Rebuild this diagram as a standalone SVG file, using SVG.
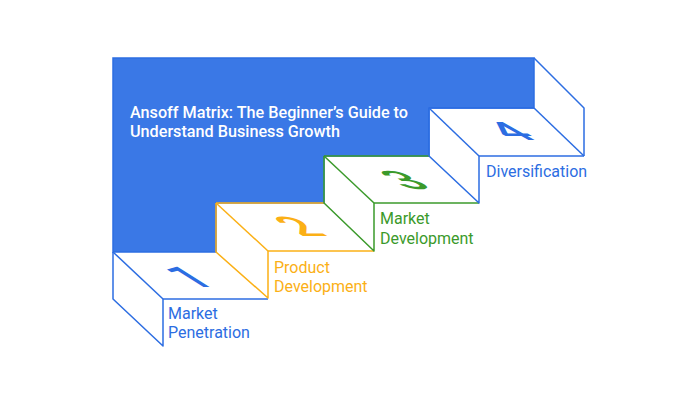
<svg xmlns="http://www.w3.org/2000/svg" width="698" height="400" viewBox="0 0 698 400">
<style>
.ln{fill:none;stroke-width:1.5;stroke-linejoin:round}
.b{stroke:#2c6de2}
.g{stroke:#3b9a2b}
.o{stroke:#fbb016}
.lbl{font-family:Roboto,"Liberation Sans",sans-serif;font-size:16px}
.tb{fill:#2c6de2}.tg{fill:#3b9a2b}.to{fill:#fbb016}
.dig{font-family:Roboto,"Liberation Sans",sans-serif;font-size:30px;font-weight:500;text-anchor:middle}
</style>
<rect width="698" height="400" fill="#ffffff"/>
<g id="wall">
<polygon points="113,58 534,58 534,108 429,108 429,156 324,156 324,203 216,203 216,252 113,252" fill="#3a78e6" stroke="#2c6de2" stroke-width="1.5"/>
<polyline class="ln b" points="534,58 584,108 584,156"/>
<line class="ln b" x1="534" y1="108" x2="584" y2="156"/>
<text x="130" y="117.5" fill="#ffffff" font-family="Roboto,'Liberation Sans',sans-serif" font-size="16.2" font-weight="500">Ansoff Matrix: The Beginner’s Guide to</text>
<text x="130" y="137" fill="#ffffff" font-family="Roboto,'Liberation Sans',sans-serif" font-size="16.2" font-weight="500">Understand Business Growth</text>
</g>
<g id="step1">
<polyline class="ln b" points="163,299 268,299"/>
<line class="ln b" x1="113" y1="252" x2="163" y2="299"/>
<polyline class="ln b" points="113,252 113,299 163,346 163,299"/>
<text class="dig tb" transform="translate(189,277) matrix(1.7,0,1.5,0.95,0,0)" y="10.5">1</text>
<text class="lbl tb" x="168" y="318.5">Market</text>
<text class="lbl tb" x="168" y="338">Penetration</text>
</g>
<g id="step2">
<line class="ln o" x1="216" y1="203" x2="324" y2="203"/>
<line class="ln o" x1="268" y1="251" x2="374" y2="251"/>
<line class="ln o" x1="216" y1="203" x2="268" y2="251"/>
<polyline class="ln o" points="216,203 216,252 268,298 268,251"/>
<text class="dig to" transform="translate(299,227) matrix(1.7,0,1.5,0.9,0,0)" y="10.5">2</text>
<text class="lbl to" x="274" y="272.5">Product</text>
<text class="lbl to" x="274" y="292">Development</text>
</g>
<g id="step3">
<line class="ln g" x1="324" y1="156" x2="429" y2="156"/>
<line class="ln g" x1="374" y1="203" x2="479" y2="203"/>
<line class="ln g" x1="324" y1="156" x2="374" y2="203"/>
<polyline class="ln g" points="324,156 324,203 374,251 374,203"/>
<text class="dig tg" transform="translate(405,180) matrix(1.7,0,1.5,0.85,0,0)" y="10.5">3</text>
<text class="lbl tg" x="380" y="224">Market</text>
<text class="lbl tg" x="380" y="243.5">Development</text>
</g>
<g id="step4">
<line class="ln b" x1="429" y1="108" x2="534" y2="108"/>
<line class="ln b" x1="479" y1="156" x2="584" y2="156"/>
<line class="ln b" x1="429" y1="108" x2="479" y2="156"/>
<polyline class="ln b" points="429,108 429,156 479,203 479,156"/>
<text class="dig tb" transform="translate(510,131) matrix(1.7,0,1.5,0.85,0,0)" y="10.5">4</text>
<text class="lbl tb" x="486" y="176.5">Diversification</text>
</g>
<g id="connectors"></g>
</svg>
